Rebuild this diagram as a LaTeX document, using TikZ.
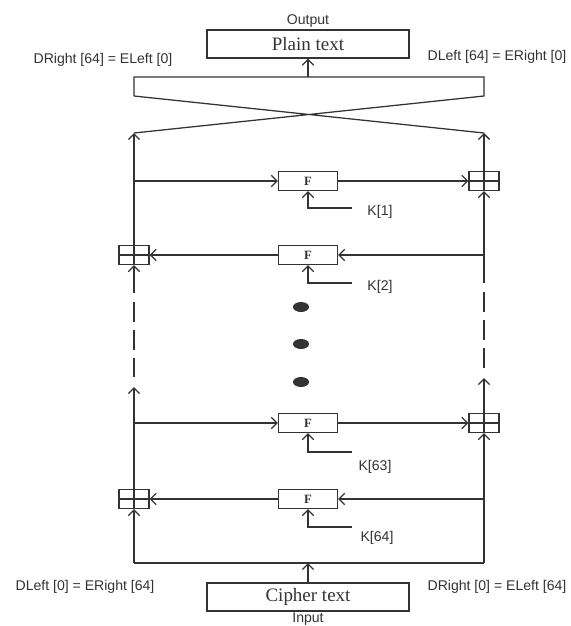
\documentclass[tikz,border=0pt]{standalone}
\usepackage{fontspec}
\setmainfont{Liberation Serif}
\setsansfont{Liberation Sans}
\usetikzlibrary{arrows.meta}
\tikzset{
	fbox/.style={draw,inner sep=0pt,minimum width=1.475cm,minimum height=0.475cm,font=\fontsize{9}{10}\selectfont\bfseries},
	xorbox/.style={draw,inner sep=0pt,minimum width=0.75cm,minimum height=0.475cm,
		path picture={\draw (path picture bounding box.west)--(path picture bounding box.east);}},
	txtbox/.style={draw,inner sep=0pt,minimum width=5.05cm,minimum height=0.7cm,font=\fontsize{13.5}{15}\selectfont},
	lbl/.style={font=\sffamily\fontsize{10}{12}\selectfont,inner sep=0pt},
}
\begin{document}
\begin{tikzpicture}[x=0.025cm,y=-0.025cm,line width=0.9pt,color=black!80,
	>={Straight Barb[length=4pt,width=8pt]}]
	\useasboundingbox (0,0) rectangle (571,626);
	% in / out
	\node[txtbox] (plain) at (308,44) {Plain text};
	\node[lbl] (out) at (308,21) {Output};
	\node[txtbox] (cipher) at (308,597) {Cipher text};
	\node[lbl] (in) at (308,619.5) {Input};
	\node[lbl] (dr64) at (103,60) {DRight [64] = ELeft [0]};
	\node[lbl] (dl64) at (497,57) {DLeft [64] = ERight [0]};
	\node[lbl] (dl0) at (85,587) {DLeft [0] = ERight [64]};
	\node[lbl] (dr0) at (497,587) {DRight [0] = ELeft [64]};
	% swap
	\coordinate (cl) at (134,133);
	\coordinate (cr) at (484,133);
	\coordinate (ct) at (308,77);
	\draw (134,96)--(134,77)--(484,77)--(484,96)--(cl) (134,96)--(cr);
	\draw[->] (ct)--(plain);
	% rounds
	\node[fbox] (f1) at (308,181) {F};
	\node[xorbox] (x1) at (484,181) {};
	\node[fbox] (f2) at (308,255) {F};
	\node[xorbox] (x2) at (134,255) {};
	\node[fbox] (f3) at (308,423) {F};
	\node[xorbox] (x3) at (484,423) {};
	\node[fbox] (f4) at (308,499) {F};
	\node[xorbox] (x4) at (134,499) {};
	% keys
	\coordinate (k1) at (352,208);
	\coordinate (k2) at (352,283);
	\coordinate (k3) at (352,452);
	\coordinate (k4) at (352,527);
	\draw[->] (k1) -| (f1);
	\draw[->] (k2) -| (f2);
	\draw[->] (k3) -| (f3);
	\draw[->] (k4) -| (f4);
	\node[lbl] (kl1) at (380,212) {K[1]};
	\node[lbl] (kl2) at (380,287) {K[2]};
	\node[lbl] (kl3) at (375,467) {K[63]};
	\node[lbl] (kl4) at (377,538) {K[64]};
	% left and right halves
	\draw[->] (x2)--(cl);
	\draw[->] (x1)--(cr);
	\draw[->] (x2 |- f1)--(f1);
	\draw[->] (f1)--(x1);
	\draw (x1.north)--(x1.south) (x2.north)--(x2.south) (x3.north)--(x3.south) (x4.north)--(x4.south);
	\coordinate (r1) at (484,283);
	\coordinate (l1) at (134,293);
	\draw[->] (r1)--(x1);
	\draw[->] (x1 |- f2)--(f2);
	\draw[->] (f2)--(x2);
	\draw[->] (l1)--(x2);
	\draw[dash pattern=on 14.2pt off 5.7pt] (134,302)--(134,377) (484,292)--(484,368);
	\fill (301,307) ellipse [x radius=0.2cm,y radius=0.125cm];
	\fill (301,344) ellipse [x radius=0.2cm,y radius=0.125cm];
	\fill (301,382) ellipse [x radius=0.2cm,y radius=0.125cm];
	\coordinate (l2) at (134,387);
	\coordinate (r2) at (484,378);
	\draw[->] (x4)--(l2);
	\draw[->] (x3)--(r2);
	\draw[->] (x4 |- f3)--(f3);
	\draw[->] (f3)--(x3);
	\draw[->] (x3 |- f4)--(f4);
	\draw[->] (f4)--(x4);
	% bottom
	\coordinate (bl) at (134,563);
	\coordinate (br) at (484,563);
	\coordinate (bm) at (308,563);
	\draw (bl)--(br);
	\draw[->] (bl)--(x4);
	\draw[->] (br)--(x3);
	\draw[->] (cipher)--(bm);
\end{tikzpicture}
\end{document}
